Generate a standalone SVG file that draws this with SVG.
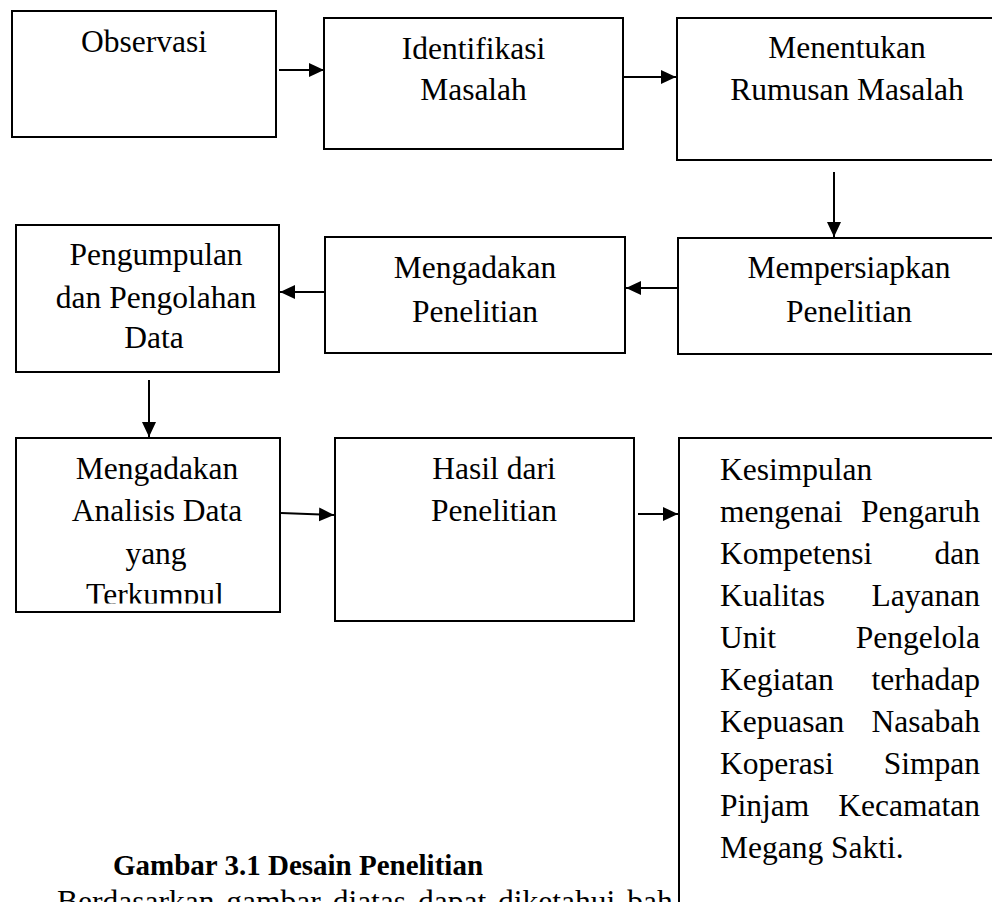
<svg xmlns="http://www.w3.org/2000/svg" width="992" height="902" viewBox="0 0 992 902">
  <style>
    .box { fill: #ffffff; stroke: #000000; stroke-width: 2; }
    .t { font-family: "Liberation Serif", "Times New Roman", serif; font-size: 31.5px; fill: #000000; }
    .c { text-anchor: middle; }
    .cap { font-family: "Liberation Serif", "Times New Roman", serif; font-size: 29px; font-weight: bold; fill: #000000; }
    .conn { stroke: #000000; stroke-width: 2; fill: none; marker-end: url(#arrow); }
  </style>
  <defs>
    <marker id="arrow" markerUnits="userSpaceOnUse" markerWidth="16" markerHeight="15" refX="15" refY="7" orient="auto">
      <path d="M0,0 L15,7 L0,14 z" fill="#000000"/>
    </marker>
    <clipPath id="clipAnalisis">
      <rect x="16" y="438" width="264" height="165.5"/>
    </clipPath>
  </defs>
  <rect x="0" y="0" width="992" height="902" fill="#ffffff"/>

  <g id="n1">
    <rect class="box" x="12" y="11" width="264" height="126"/>
    <text class="t c" x="144" y="52">Observasi</text>
  </g>
  <g id="n2">
    <rect class="box" x="324" y="18" width="299" height="131"/>
    <text class="t c" x="473.5" y="59">Identifikasi</text>
    <text class="t c" x="473.5" y="100">Masalah</text>
  </g>
  <g id="n3">
    <rect class="box" x="677" y="18" width="340" height="142"/>
    <text class="t c" x="847" y="58">Menentukan</text>
    <text class="t c" x="847" y="100">Rumusan Masalah</text>
  </g>
  <g id="n4">
    <rect class="box" x="678" y="238" width="340" height="116"/>
    <text class="t c" x="849" y="278">Mempersiapkan</text>
    <text class="t c" x="849" y="322">Penelitian</text>
  </g>
  <g id="n5">
    <rect class="box" x="325" y="237" width="300" height="116"/>
    <text class="t c" x="475" y="278">Mengadakan</text>
    <text class="t c" x="475" y="322">Penelitian</text>
  </g>
  <g id="n6">
    <rect class="box" x="16" y="225" width="263" height="147"/>
    <text class="t c" x="156" y="265">Pengumpulan</text>
    <text class="t c" x="156" y="308">dan Pengolahan</text>
    <text class="t c" x="154" y="348">Data</text>
  </g>
  <g id="n7">
    <rect class="box" x="16" y="438" width="264" height="174"/>
    <g clip-path="url(#clipAnalisis)">
      <text class="t c" x="157" y="479">Mengadakan</text>
      <text class="t c" x="157" y="521">Analisis Data</text>
      <text class="t c" x="156" y="564">yang</text>
      <text class="t c" x="155" y="605">Terkumpul</text>
    </g>
  </g>
  <g id="n8">
    <rect class="box" x="335" y="438" width="299" height="183"/>
    <text class="t c" x="494" y="479">Hasil dari</text>
    <text class="t c" x="494" y="521">Penelitian</text>
  </g>
  <g id="n9">
    <rect class="box" x="679" y="438" width="340" height="500"/>
    <text class="t" x="720" y="480">Kesimpulan</text>
    <text class="t" y="522"><tspan x="720">mengenai</tspan> <tspan x="980" text-anchor="end">Pengaruh</tspan></text>
    <text class="t" y="564"><tspan x="720">Kompetensi</tspan> <tspan x="980" text-anchor="end">dan</tspan></text>
    <text class="t" y="606"><tspan x="720">Kualitas</tspan> <tspan x="980" text-anchor="end">Layanan</tspan></text>
    <text class="t" y="648"><tspan x="720">Unit</tspan> <tspan x="980" text-anchor="end">Pengelola</tspan></text>
    <text class="t" y="690"><tspan x="720">Kegiatan</tspan> <tspan x="980" text-anchor="end">terhadap</tspan></text>
    <text class="t" y="732"><tspan x="720">Kepuasan</tspan> <tspan x="980" text-anchor="end">Nasabah</tspan></text>
    <text class="t" y="774"><tspan x="720">Koperasi</tspan> <tspan x="980" text-anchor="end">Simpan</tspan></text>
    <text class="t" y="816"><tspan x="720">Pinjam</tspan> <tspan x="980" text-anchor="end">Kecamatan</tspan></text>
    <text class="t" x="720" y="858">Megang Sakti.</text>
  </g>

  <g id="connectors">
    <line class="conn" x1="279" y1="70" x2="324" y2="70"/>
    <line class="conn" x1="623" y1="77" x2="676" y2="77"/>
    <line class="conn" x1="834" y1="172" x2="834" y2="237"/>
    <line class="conn" x1="678" y1="288" x2="626" y2="288"/>
    <line class="conn" x1="325" y1="292" x2="280" y2="292"/>
    <line class="conn" x1="149" y1="380" x2="149" y2="437"/>
    <line class="conn" x1="281" y1="513" x2="334" y2="515"/>
    <line class="conn" x1="638" y1="514" x2="678" y2="514"/>
  </g>

  <g id="caption">
    <text class="cap" x="113" y="875">Gambar 3.1 Desain Penelitian</text>
    <text class="t" x="57" y="912" style="word-spacing:4px">Berdasarkan gambar diatas dapat diketahui bah</text>
  </g>
</svg>
